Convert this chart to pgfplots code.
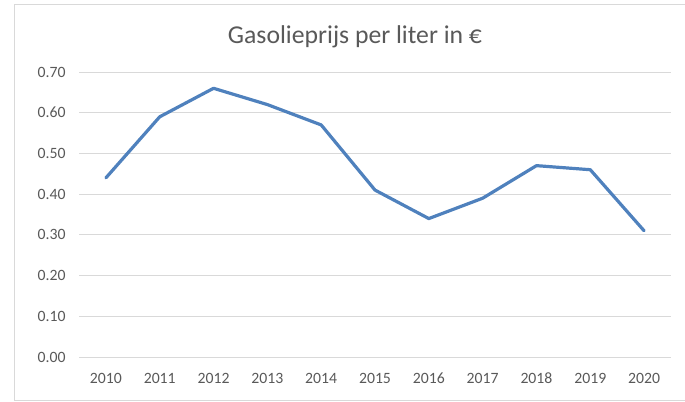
\documentclass[border=0pt]{standalone}
\usepackage{fontspec}
\setmainfont{Carlito}
\usepackage{pgfplots}
\pgfplotsset{compat=1.18}
\definecolor{serieblue}{RGB}{79,129,189}
\definecolor{gridgray}{RGB}{217,217,217}
\definecolor{txtgray}{RGB}{89,89,89}
\begin{document}
\begin{tikzpicture}[x=1bp,y=1bp]
\useasboundingbox (0,0) rectangle (685,401);
\draw[gridgray, line width=1bp] (14.5,0.5) rectangle (700,396);
\node[text=txtgray, font=\fontsize{25.8}{30}\selectfont] at (355,364) {Gasolieprijs per liter in €};
\begin{axis}[
  at={(79bp,44bp)}, anchor=south west,
  scale only axis, width=592bp, height=285bp,
  xmin=2009.5, xmax=2020.5, ymin=0, ymax=0.7,
  xtick={2010,2011,2012,2013,2014,2015,2016,2017,2018,2019,2020},
  ytick={0,0.1,0.2,0.3,0.4,0.5,0.6,0.7},
  axis line style={draw=none}, tick style={draw=none},
  ymajorgrids, grid style={gridgray, line width=1bp},
  /pgf/number format/assume math mode=true,
  tick label style={font=\fontsize{15.8}{18}\selectfont, text=txtgray},
  xticklabel style={/pgf/number format/1000 sep={}, anchor=base, yshift=-26bp},
  yticklabel style={/pgf/number format/.cd, fixed, fixed zerofill, precision=2, /tikz/.cd, xshift=-10bp},
]
\addplot[serieblue, line width=3.2bp, line join=round, line cap=round, mark=none] coordinates {
(2010,0.44) (2011,0.59) (2012,0.66) (2013,0.62) (2014,0.57) (2015,0.41) (2016,0.34) (2017,0.39) (2018,0.47) (2019,0.46) (2020,0.31)
};
\end{axis}
\end{tikzpicture}
\end{document}
